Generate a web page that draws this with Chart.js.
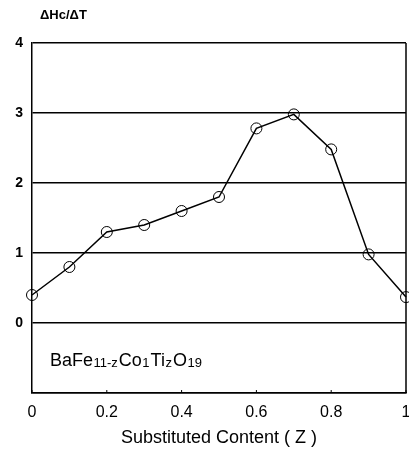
<!DOCTYPE html>
<html lang="en">
<head>
    <meta charset="UTF-8">
    <title>dHc/dT vs substituted content</title>
    <script src="https://cdn.jsdelivr.net/npm/chart.js"></script>
    <style>
        body { margin: 0; background: #fff; }
        #wrap { width: 409px; height: 452px; }
    </style>
</head>
<body>
    <div id="wrap"><canvas id="hcchart"></canvas></div>
    <script>
        // values
        const zValues = [0, 0.1, 0.2, 0.3, 0.4, 0.5, 0.6, 0.7, 0.8, 0.9, 1.0];
        const dHcdT = [0.4, 0.8, 1.3, 1.4, 1.6, 1.8, 2.78, 2.98, 2.48, 0.98, 0.37];
        const xTicks = [0, 0.2, 0.4, 0.6, 0.8, 1];
        const yTicks = [-1, 0, 1, 2, 3, 4];

        const points = zValues.map((z, i) => ({ x: z, y: dHcdT[i] }));

        // extra drawing: inner ticks, right border, y title, formula label
        const extras = {
            id: 'extras',
            afterDraw(chart) {
                const ctx = chart.ctx;
                const area = chart.chartArea;
                const xs = chart.scales.x;
                ctx.save();
                ctx.strokeStyle = '#000';
                ctx.lineWidth = 1.5;
                ctx.beginPath();
                ctx.moveTo(area.right, area.top);
                ctx.lineTo(area.right, area.bottom);
                ctx.stroke();
                ctx.lineWidth = 1;
                xTicks.forEach(t => {
                    const px = xs.getPixelForValue(t);
                    ctx.beginPath();
                    ctx.moveTo(px, area.bottom);
                    ctx.lineTo(px, area.bottom - 3);
                    ctx.stroke();
                });

                ctx.fillStyle = '#000';
                ctx.textBaseline = 'alphabetic';
                ctx.font = 'bold 13px "Liberation Sans", Arial';
                ctx.fillText('\u0394Hc/\u0394T', 40, 19);

                // BaFe11-zCo1TizO19
                const parts = [
                    ['BaFe', false], ['11-z', true], ['Co', false], ['1', true],
                    ['Ti', false], ['z', true], ['O', false], ['19', true]
                ];
                let x = 50;
                const base = 366;
                parts.forEach(([txt, sub]) => {
                    ctx.font = sub ? '13px "Liberation Sans", Arial' : '18px "Liberation Sans", Arial';
                    ctx.fillText(txt, x, sub ? base + 1 : base);
                    x += ctx.measureText(txt).width + (sub ? 1 : 0.5);
                });
                ctx.restore();
            }
        };

        new Chart(document.getElementById('hcchart'), {
            type: 'line',
            data: {
                datasets: [{
                    data: points,
                    borderColor: '#000',
                    borderWidth: 1.5,
                    pointStyle: 'circle',
                    pointRadius: 5.5,
                    pointBorderWidth: 1,
                    pointBorderColor: '#000',
                    pointBackgroundColor: 'rgba(0,0,0,0)',
                    tension: 0,
                    clip: false
                }]
            },
            options: {
                responsive: true,
                maintainAspectRatio: false,
                animation: false,
                layout: { autoPadding: false, padding: { left: 0, right: 3, top: 43, bottom: 0 } },
                plugins: {
                    legend: { display: false },
                    tooltip: { enabled: false }
                },
                scales: {
                    x: {
                        type: 'linear',
                        min: 0,
                        max: 1,
                        afterBuildTicks(scale) {
                            scale.ticks = xTicks.map(v => ({ value: v }));
                        },
                        afterFit(scale) {
                            scale.height = 59;
                            scale.paddingLeft = 0;
                            scale.paddingRight = 0;
                        },
                        grid: { display: false, drawTicks: false },
                        border: { display: true, color: '#000', width: 1.5 },
                        ticks: {
                            color: '#000',
                            padding: 10,
                            maxRotation: 0,
                            autoSkip: false,
                            font: { family: '"Liberation Sans", Arial', size: 16 },
                            callback: v => String(v)
                        },
                        title: {
                            display: true,
                            text: 'Substituted Content ( Z )',
                            color: '#000',
                            font: { family: '"Liberation Sans", Arial', size: 18 },
                            padding: { top: 2, bottom: 3 }
                        }
                    },
                    y: {
                        min: -1,
                        max: 4,
                        afterBuildTicks(scale) {
                            scale.ticks = yTicks.map(v => ({ value: v }));
                        },
                        afterFit(scale) {
                            scale.width = 32;
                            scale.paddingTop = 0;
                            scale.paddingBottom = 0;
                        },
                        grid: {
                            color: '#000',
                            lineWidth: 1.5,
                            drawTicks: false
                        },
                        border: { display: true, color: '#000', width: 1.5 },
                        ticks: {
                            color: '#000',
                            padding: 9,
                            font: { family: '"Liberation Sans", Arial', size: 14, weight: 'bold' },
                            callback: v => (v < 0 ? '' : String(v))
                        }
                    }
                }
            },
            plugins: [extras]
        });
    </script>
</body>
</html>
